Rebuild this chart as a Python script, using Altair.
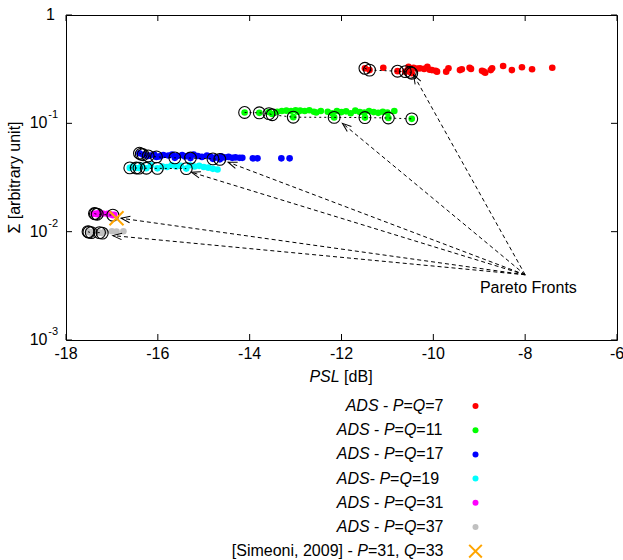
import math
import altair as alt
import pandas as pd

# ---------------- data ----------------
series_names = ["P=Q=7", "P=Q=11", "P=Q=17", "P=Q=19", "P=Q=31", "P=Q=37"]
series_colors = ["#ff0000", "#00ff00", "#0000ff", "#00ffff", "#ff00ff", "#c0c0c0"]

red_x = [-11.49, -11.39, -11.09, -10.78, -10.61, -10.54, -10.5, -10.47, -10.43, -10.35, -10.29, -10.2,
         -10.13, -10.08, -10.03, -9.95, -9.92, -9.72, -9.67, -9.42, -9.38, -9.21, -9.18, -8.94,
         -8.9, -8.87, -8.75, -8.72, -8.48, -8.29, -8.07, -7.85, -7.41]
red_y = [0.322, 0.31, 0.326, 0.303, 0.30, 0.333, 0.296, 0.29, 0.326, 0.32, 0.322, 0.318,
         0.333, 0.312, 0.31, 0.305, 0.30, 0.30, 0.322, 0.31, 0.316, 0.326, 0.318, 0.306,
         0.30, 0.293, 0.31, 0.322, 0.338, 0.31, 0.329, 0.316, 0.326]

green_x = [-14.11, -13.79, -13.58, -13.51, -13.4, -13.3, -13.2, -13.1, -13.05, -13.0, -12.95, -12.9,
           -12.8, -12.7, -12.6, -12.55, -12.45, -12.3, -12.2, -12.16, -12.1, -12.0, -11.9, -11.8,
           -11.7, -11.6, -11.5, -11.49, -11.4, -11.3, -11.2, -11.1, -11.0, -10.98, -10.85, -10.47]
green_y = [0.126, 0.125, 0.127, 0.122, 0.128, 0.13, 0.131, 0.13, 0.114, 0.132, 0.128, 0.131,
           0.13, 0.132, 0.128, 0.126, 0.13, 0.128, 0.124, 0.1135, 0.13, 0.127, 0.129, 0.124,
           0.131, 0.127, 0.126, 0.113, 0.13, 0.127, 0.125, 0.128, 0.126, 0.112, 0.13, 0.110]

blue_x = [-16.40, -16.32, -16.28, -16.21, -16.17, -16.08, -16.03, -15.96, -15.88, -15.77, -15.69, -15.63,
          -15.58, -15.47, -15.41, -15.33, -15.29, -15.22, -15.13, -15.04, -14.93, -14.86, -14.80, -14.74,
          -14.65, -14.62, -14.55, -14.46, -14.38, -14.31, -14.22, -14.16, -13.93, -13.83, -13.31, -13.13]
blue_y = [0.053, 0.0513, 0.051, 0.050, 0.0505, 0.0515, 0.049, 0.0495, 0.051, 0.0505, 0.0515, 0.048,
          0.050, 0.051, 0.0495, 0.0505, 0.0478, 0.0515, 0.050, 0.049, 0.0505, 0.0495, 0.047, 0.0485,
          0.0465, 0.0495, 0.0485, 0.049, 0.048, 0.0485, 0.048, 0.048, 0.0475, 0.0475, 0.0475, 0.0475]

cyan_x = [-16.61, -16.55, -16.47, -16.41, -16.35, -16.25, -16.15, -16.01, -15.9, -15.8, -15.7, -15.6,
          -15.5, -15.38, -15.3, -15.2, -15.1, -15.0, -14.9, -14.8, -14.7]
cyan_y = [0.0388, 0.040, 0.0387, 0.0386, 0.0405, 0.0385, 0.041, 0.0384, 0.040, 0.0395, 0.041, 0.040,
          0.0405, 0.0382, 0.041, 0.040, 0.0405, 0.0395, 0.039, 0.038, 0.0375]

magenta_x = [-17.4, -17.36, -17.32, -17.3, -17.2, -17.1, -17.05, -16.98, -16.95]
magenta_y = [0.0146, 0.0146, 0.0145, 0.0148, 0.0147, 0.0146, 0.0145, 0.0142, 0.0143]

gray_x = [-17.52, -17.5, -17.45, -17.4, -17.27, -17.21, -17.15, -17.0, -16.9, -16.75]
gray_y = [0.0100, 0.0099, 0.0098, 0.0100, 0.0098, 0.0097, 0.0101, 0.0101, 0.0100, 0.0101]

# Pareto fronts (circled points)
front_x = {
    "P=Q=7": [-11.49, -11.39, -10.78, -10.61, -10.5, -10.47],
    "P=Q=11": [-14.11, -13.79, -13.58, -13.51, -13.05, -12.16, -11.49, -10.98, -10.47],
    "P=Q=17": [-16.40, -16.36, -16.32, -16.21, -16.03, -15.63, -15.29, -14.80, -14.65],
    "P=Q=19": [-16.61, -16.47, -16.41, -16.25, -16.01, -15.38],
    "P=Q=31": [-17.38, -17.36, -17.32, -16.98],
    "P=Q=37": [-17.52, -17.5, -17.45, -17.27, -17.21],
}
front_y = {
    "P=Q=7": [0.322, 0.31, 0.303, 0.30, 0.296, 0.29],
    "P=Q=11": [0.126, 0.125, 0.123, 0.120, 0.114, 0.1135, 0.113, 0.112, 0.110],
    "P=Q=17": [0.053, 0.052, 0.0513, 0.050, 0.049, 0.048, 0.0478, 0.047, 0.0465],
    "P=Q=19": [0.0388, 0.0387, 0.0386, 0.0385, 0.0384, 0.0382],
    "P=Q=31": [0.0147, 0.0146, 0.0145, 0.0142],
    "P=Q=37": [0.0100, 0.0099, 0.0098, 0.0098, 0.0097],
}

simeoni_x = [-16.9]
simeoni_y = [0.0133]

arrow_origin = (-8.0, 0.004)
arrow_tip_x = [-10.43, -11.98, -14.47, -15.27, -16.8, -16.98]
arrow_tip_y = [0.28, 0.100, 0.0438, 0.0354, 0.0133, 0.0092]

annot_text = "Pareto Fronts"
annot_x = [-7.93]
annot_y = [0.00302]

xticks = [-18, -16, -14, -12, -10, -8, -6]
xtick_labels = ["-18", "-16", "-14", "-12", "-10", "-8", "-6"]
ytick_vals = [1, 0.1, 0.01, 0.001]
ytick_base = ["1", "10", "10", "10"]
ytick_sup = ["", "-1", "-2", "-3"]

# legend labels, *...* marks italic
legend_labels = [
    "*ADS* - *P*=*Q*=7",
    "*ADS* - *P*=*Q*=11",
    "*ADS* - *P*=*Q*=17",
    "*ADS*- *P*=*Q*=19 ",
    "*ADS* - *P*=*Q*=31",
    "*ADS* - *P*=*Q*=37",
    "[Simeoni, 2009] - *P*=31, *Q*=33",
]
x_title = "*PSL* [dB]"
y_title = "Σ [arbitrary unit]"

# ---------------- layout ----------------
W, H = 551, 325
FONT = "Liberation Sans"
FS = 16
xs = alt.Scale(domain=[-18, -6], nice=False, zero=False)
ys = alt.Scale(type="log", domain=[0.001, 1], nice=False)

# Arial / Liberation Sans advance widths (per 1000 em)
AW = {" ": 278, "-": 333, "=": 584, ",": 278, "[": 278, "]": 278, "A": 667, "D": 722,
      "S": 667, "P": 667, "Q": 778, "i": 222, "m": 833, "e": 556, "o": 556, "n": 556,
      "L": 556, "d": 556, "B": 667}


def tw(s, fs=FS):
    return sum(AW.get(c, 556) for c in s) * fs / 1000.0


def segments(label, right=None, center=None, ypos=0.0):
    parts = label.split("*")
    total = sum(tw(p) for p in parts)
    start = right - total if right is not None else center - total / 2.0
    rows = []
    cum = 0.0
    for i, p in enumerate(parts):
        stripped = p.strip()
        if stripped:
            lead = len(p) - len(p.lstrip())
            rows.append({"txt": stripped, "px": start + cum + tw(p[:lead]), "py": ypos,
                         "it": i % 2 == 1})
        cum += tw(p)
    return rows


# ---------------- frames ----------------
all_x = [red_x, green_x, blue_x, cyan_x, magenta_x, gray_x]
all_y = [red_y, green_y, blue_y, cyan_y, magenta_y, gray_y]
dots = pd.DataFrame([{"s": n, "x": x, "y": y}
                     for n, xl, yl in zip(series_names, all_x, all_y) for x, y in zip(xl, yl)])
fronts = pd.DataFrame([{"s": n, "x": x, "y": y}
                       for n in series_names for x, y in zip(front_x[n], front_y[n])])
sim = pd.DataFrame({"x": simeoni_x, "y": simeoni_y})


def pxx(v):
    return (v + 18) / 12 * W


def pyy(v):
    return -math.log10(v) / 3 * H


ox, oy = arrow_origin
arr_rows = []
for tx, ty in zip(arrow_tip_x, arrow_tip_y):
    dx = pxx(tx) - pxx(ox)
    dy = pyy(ty) - pyy(oy)
    ang = math.degrees(math.atan2(dx, -dy)) % 360
    arr_rows.append({"x0": ox, "y0": oy, "x1": tx, "y1": ty, "ang": ang})
arrows = pd.DataFrame(arr_rows)

xt = pd.DataFrame({"t": xticks, "lab": xtick_labels})
yt = pd.DataFrame({"t": ytick_vals})
ylab = pd.DataFrame({"t": ytick_vals, "base": ytick_base, "sup": ytick_sup})

leg_rows = []
row_y0, row_dy = 391.0, 24.2
for i, lab in enumerate(legend_labels):
    leg_rows += segments(lab, right=377.5, ypos=row_y0 + i * row_dy)
leg_rows += segments(x_title, center=275.0, ypos=362.0)
legtext = pd.DataFrame(leg_rows)
legsym = pd.DataFrame({"py": [row_y0 + i * row_dy for i in range(6)], "col": series_colors})
legx = pd.DataFrame({"py": [row_y0 + 6 * row_dy]})
ytitle_df = pd.DataFrame({"t": [y_title]})

color_scale = alt.Scale(domain=series_names, range=series_colors)
XSHAPE = "M-1,-1L1,1M-1,1L1,-1"

# ---------------- layers ----------------
dots_layer = alt.Chart(dots).mark_circle(size=44, opacity=1).encode(
    x=alt.X("x:Q", scale=xs, axis=None),
    y=alt.Y("y:Q", scale=ys, axis=None),
    color=alt.Color("s:N", scale=color_scale, legend=None),
)

front_lines = alt.Chart(fronts).mark_line(color="black", strokeDash=[2, 3], strokeWidth=1).encode(
    x=alt.X("x:Q", scale=xs, axis=None),
    y=alt.Y("y:Q", scale=ys, axis=None),
    detail="s:N",
)

front_circles = alt.Chart(fronts).mark_point(shape="circle", filled=False, color="black",
                                             size=140, strokeWidth=1.1, opacity=1).encode(
    x=alt.X("x:Q", scale=xs, axis=None),
    y=alt.Y("y:Q", scale=ys, axis=None),
)

sim_layer = alt.Chart(sim).mark_point(shape=XSHAPE, filled=False, color="#ffa500", size=196,
                                      strokeWidth=2, opacity=1).encode(
    x=alt.X("x:Q", scale=xs, axis=None),
    y=alt.Y("y:Q", scale=ys, axis=None),
)

arrow_lines = alt.Chart(arrows).mark_rule(color="black", strokeDash=[4, 3], strokeWidth=1).encode(
    x=alt.X("x0:Q", scale=xs, axis=None), y=alt.Y("y0:Q", scale=ys, axis=None),
    x2="x1:Q", y2="y1:Q",
)

arrow_heads = alt.Chart(arrows).mark_point(shape="M-0.36,1L0,0L0.36,1", filled=False,
                                           color="black", size=324, strokeWidth=1,
                                           opacity=1).encode(
    x=alt.X("x1:Q", scale=xs, axis=None), y=alt.Y("y1:Q", scale=ys, axis=None),
    angle=alt.Angle("ang:Q", scale=None),
)

annot = alt.Chart(pd.DataFrame({"x": annot_x, "y": annot_y, "t": [annot_text]})).mark_text(
    font=FONT, fontSize=FS, color="black", align="center", baseline="middle").encode(
    x=alt.X("x:Q", scale=xs, axis=None), y=alt.Y("y:Q", scale=ys, axis=None), text="t:N")

xt_bottom = alt.Chart(xt).mark_rule(color="black", strokeWidth=1).encode(
    x=alt.X("t:Q", scale=xs, axis=None), y=alt.value(H), y2=alt.value(H - 6))
xt_top = alt.Chart(xt).mark_rule(color="black", strokeWidth=1).encode(
    x=alt.X("t:Q", scale=xs, axis=None), y=alt.value(0), y2=alt.value(6))
yt_left = alt.Chart(yt).mark_rule(color="black", strokeWidth=1).encode(
    y=alt.Y("t:Q", scale=ys, axis=None), x=alt.value(0), x2=alt.value(6))
yt_right = alt.Chart(yt).mark_rule(color="black", strokeWidth=1).encode(
    y=alt.Y("t:Q", scale=ys, axis=None), x=alt.value(W), x2=alt.value(W - 6))

xlab = alt.Chart(xt).mark_text(font=FONT, fontSize=FS, color="black", align="center",
                               baseline="top").encode(
    x=alt.X("t:Q", scale=xs, axis=None), y=alt.value(H + 6), text="lab:N")

ylab_base = alt.Chart(ylab).transform_filter("datum.sup != ''").mark_text(
    font=FONT, fontSize=FS, color="black", align="right", baseline="middle").encode(
    y=alt.Y("t:Q", scale=ys, axis=None), x=alt.value(-18.5), text="base:N")
ylab_one = alt.Chart(ylab).transform_filter("datum.sup == ''").mark_text(
    font=FONT, fontSize=FS, color="black", align="right", baseline="middle").encode(
    y=alt.Y("t:Q", scale=ys, axis=None), x=alt.value(-11), text="base:N")
ylab_sup = alt.Chart(ylab).transform_filter("datum.sup != ''").mark_text(
    font=FONT, fontSize=11, color="black", align="right", baseline="middle", dy=-8).encode(
    y=alt.Y("t:Q", scale=ys, axis=None), x=alt.value(-8), text="sup:N")

ytitle = alt.Chart(ytitle_df).mark_text(font=FONT, fontSize=FS, color="black", align="center",
                                        baseline="middle", angle=270).encode(
    x=alt.value(-51), y=alt.value(H / 2), text="t:N")

leg_norm = alt.Chart(legtext).transform_filter("!datum.it").mark_text(
    font=FONT, fontSize=FS, color="black", align="left", baseline="middle").encode(
    x=alt.X("px:Q", scale=None, axis=None), y=alt.Y("py:Q", scale=None, axis=None), text="txt:N")
leg_ital = alt.Chart(legtext).transform_filter("datum.it").mark_text(
    font=FONT, fontSize=FS, fontStyle="italic", color="black", align="left",
    baseline="middle").encode(
    x=alt.X("px:Q", scale=None, axis=None), y=alt.Y("py:Q", scale=None, axis=None), text="txt:N")
leg_dots = alt.Chart(legsym).mark_circle(size=36, opacity=1).encode(
    x=alt.value(409.5), y=alt.Y("py:Q", scale=None, axis=None),
    color=alt.Color("col:N", scale=None, legend=None))
leg_x = alt.Chart(legx).mark_point(shape=XSHAPE, filled=False, color="#ffa500", size=160,
                                   strokeWidth=2, opacity=1).encode(
    x=alt.value(409.5), y=alt.Y("py:Q", scale=None, axis=None))

chart = alt.layer(
    dots_layer, front_lines, front_circles, sim_layer, arrow_lines, arrow_heads, annot,
    xt_bottom, xt_top, yt_left, yt_right, xlab, ylab_base, ylab_one, ylab_sup, ytitle,
    leg_norm, leg_ital, leg_dots, leg_x,
).properties(
    width=W, height=H,
    autosize=alt.AutoSizeParams(type="none"),
    padding={"left": 66, "top": 15, "right": 6, "bottom": 220},
    background="white",
).configure_view(stroke="black", strokeWidth=1)

chart.save("out.html", embed_options={"renderer": "svg", "actions": False})
